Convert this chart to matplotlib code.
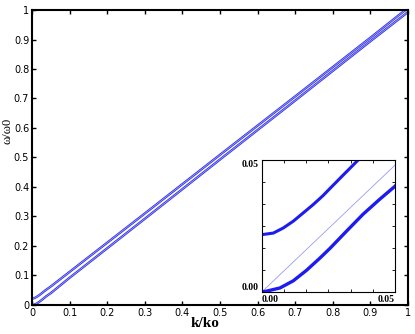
import numpy as np
import matplotlib
matplotlib.use("Agg")
import matplotlib.pyplot as plt

# dispersion branches (k/k0, w/w0)
k_upper = [0.0, 0.0043, 0.008, 0.0118, 0.0155, 0.0193, 0.023, 0.0256, 0.03, 0.0362,
           0.05, 0.1, 0.3, 0.5, 0.7, 0.9, 0.993]
w_upper = [0.0217, 0.0223, 0.0242, 0.0268, 0.0299, 0.0331, 0.0365, 0.0392, 0.0437, 0.05,
           0.0625, 0.112, 0.31, 0.509, 0.707, 0.906, 1.0]

k_lower = [0.0, 0.0018, 0.0068, 0.0118, 0.0168, 0.0218, 0.0256, 0.0318, 0.0381, 0.0444,
           0.05, 0.1, 0.3, 0.5, 0.7, 0.9, 1.0]
w_lower = [0.0, 0.0003, 0.0015, 0.0042, 0.0082, 0.0128, 0.0165, 0.023, 0.0295, 0.0352,
           0.04, 0.092, 0.292, 0.493, 0.693, 0.894, 0.993]

# faint light-line seen only in the inset
k_light = [0.0, 0.05]
w_light = [0.0, 0.048]

main_ticks = [0, 0.1, 0.2, 0.3, 0.4, 0.5, 0.6, 0.7, 0.8, 0.9, 1]
main_labels = ["0", "0.1", "0.2", "0.3", "0.4", "0.5", "0.6", "0.7", "0.8", "0.9", "1"]
inset_ticks = [0.0, 0.05]
inset_labels = ["0.00", "0.05"]
inset_minor = [0.05 / 6 * i for i in range(1, 6)]

fig = plt.figure(figsize=(4.15, 3.34), dpi=100)
ax = fig.add_axes([0.077, 0.087, 0.906, 0.883])

for kk, ww in [(k_upper, w_upper), (k_lower, w_lower)]:
    ax.plot(kk, ww, color="#3434e6", lw=1.7, solid_joinstyle="round")
    ax.plot(kk, ww, color="#a8a8f4", lw=0.5, solid_joinstyle="round")
ax.set_xlim(0, 1)
ax.set_ylim(0, 1)
ax.set_xticks(main_ticks)
ax.set_xticklabels(main_labels)
ax.set_yticks(main_ticks)
ax.set_yticklabels(main_labels)
ax.tick_params(direction="in", top=True, right=True, labelsize=7, length=3, width=1, pad=2)
for s in ax.spines.values():
    s.set_linewidth(1.5)
ax.set_xlabel("k/ko", family="Liberation Serif", weight="bold", fontsize=11, labelpad=0)
ax.xaxis.set_label_coords(0.46, -0.04)
ax.set_ylabel("ω/ω0", family="Liberation Serif", fontsize=9)
ax.yaxis.set_label_coords(-0.05, 0.59)

# inset zoom near the origin
axin = fig.add_axes([0.631, 0.126, 0.3205, 0.395])
axin.plot(k_light, w_light, color="#7070f0", lw=0.6, alpha=0.7)
axin.plot(k_upper, w_upper, color="#1c1cf0", lw=2.2, solid_joinstyle="round", solid_capstyle="round")
axin.plot(k_lower, w_lower, color="#1c1cf0", lw=2.4, solid_joinstyle="round", solid_capstyle="round")
axin.set_xlim(0, 0.05)
axin.set_ylim(0, 0.05)
axin.set_xticks(inset_ticks)
axin.set_xticklabels(inset_labels, family="Liberation Serif", weight="bold", fontsize=7)
axin.set_yticks(inset_ticks)
axin.set_yticklabels(inset_labels, family="Liberation Serif", weight="bold", fontsize=7)
axin.set_xticks(inset_minor, minor=True)
axin.set_yticks(inset_minor, minor=True)
axin.get_xticklabels()[0].set_ha("left")
axin.get_xticklabels()[1].set_ha("right")
axin.get_yticklabels()[0].set_va("bottom")
axin.get_yticklabels()[1].set_va("top")
axin.tick_params(which="major", length=0, pad=2)
axin.tick_params(which="minor", direction="in", top=True, right=True, length=2, width=0.6)
for s in axin.spines.values():
    s.set_linewidth(0.8)

fig.savefig("out.png", dpi=100)
